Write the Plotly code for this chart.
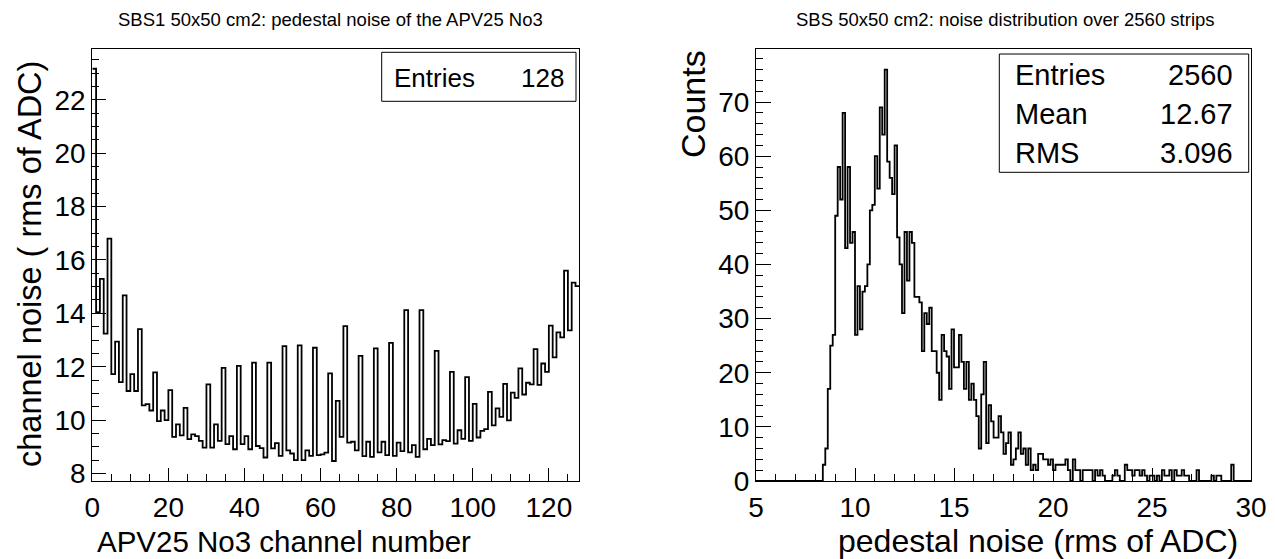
import numpy as np
import plotly.graph_objects as go

# ---------------- data ----------------
left_title = "SBS1 50x50 cm2: pedestal noise of the APV25 No3"
right_title = "SBS 50x50 cm2: noise distribution over 2560 strips"

# channel noise (rms of ADC) per APV25 channel, 128 channels
channel_noise = [
    23.16, 14.04, 15.29, 13.24, 16.80, 11.72, 12.94, 11.42, 14.67, 11.09,
    11.72, 11.09, 13.41, 10.55, 10.60, 10.36, 11.79, 9.96, 10.36, 10.00,
    11.12, 9.37, 9.84, 9.43, 10.46, 9.29, 9.47, 9.40, 9.22, 8.97,
    11.34, 8.97, 9.84, 9.22, 11.96, 9.10, 9.40, 8.91, 12.03, 9.10,
    9.40, 8.91, 12.15, 9.03, 8.95, 8.60, 12.15, 8.94, 9.14, 8.66,
    12.77, 8.87, 8.75, 8.50, 12.80, 8.50, 8.87, 8.66, 12.71, 8.69,
    8.72, 8.78, 11.75, 8.47, 10.72, 9.37, 13.52, 9.16, 9.19, 8.87,
    12.41, 8.65, 9.19, 8.62, 12.69, 8.79, 9.19, 8.69, 12.89, 8.66,
    9.16, 8.84, 14.12, 8.79, 9.06, 8.62, 14.12, 8.91, 9.30, 9.06,
    12.59, 9.09, 9.25, 9.21, 11.81, 9.12, 9.62, 9.30, 11.61, 9.22,
    10.61, 9.35, 9.60, 9.66, 11.06, 9.80, 10.44, 10.12, 11.36, 9.99,
    11.03, 10.83, 11.94, 10.96, 11.40, 11.34, 12.66, 11.32, 12.12, 11.81,
    13.54, 12.35, 13.29, 13.10, 15.60, 13.36, 15.15, 15.02,
]
n_channels = 128

# noise distribution: bins of 0.125 starting at 8.375 (counts)
noise_first_edge = 8.375
noise_bin_width = 0.125
noise_counts = [
    3, 6, 17, 25, 27, 49, 58, 52, 68, 43, 58, 44, 46, 27, 36, 28, 35, 36, 40, 50,
    51, 60, 54, 69, 64, 76, 59, 56, 53, 62, 45, 40, 31, 46, 37, 46, 44, 34, 34, 33,
    24, 31, 29, 32, 24, 24, 20, 15, 27, 24, 23, 17, 28, 21, 21, 27, 22, 17, 22, 15,
    18, 15, 12, 6, 16, 22, 7, 14, 11, 8, 8, 12, 9, 5, 7, 9, 3, 4, 6, 9,
    5, 6, 3, 6, 2, 3, 2, 5, 5, 4, 4, 3, 4, 2, 3, 3, 3, 3, 4, 2,
    0, 4, 2, 2, 0, 2, 2, 2, 2, 0, 2, 1, 2, 1, 0, 0, 0, 1, 2, 1,
    0, 0, 3, 2, 2, 1, 2, 2, 1, 2, 1, 0, 1, 1, 0, 1, 0, 2, 1, 1,
    2, 0, 2, 1, 1, 2, 1, 1, 0, 0, 0, 2, 0, 0, 0, 0, 0, 1, 0, 1,
    1, 0, 0, 0, 0, 3,
]

left_stats = [("Entries", "128")]
right_stats = [("Entries", "2560"), ("Mean", "12.67"), ("RMS", "3.096")]

left_xtitle = "APV25 No3 channel number"
left_ytitle = "channel noise ( rms of ADC)"
right_xtitle = "pedestal noise (rms of ADC)"
right_ytitle = "Counts"

# ---------------- figure ----------------
OFF = 8  # page body margin offset
W, H = 1275 - OFF, 559 - OFF
FONT = "Liberation Sans, Arial, Helvetica, sans-serif"


def px_x(p):
    return (p - OFF) / W


def px_y(p):
    return 1 - (p - OFF) / H


L_X0, L_X1 = 92.3, 579.3
R_X0, R_X1 = 756.0, 1251.0
Y_TOP, Y_BOT = 49.0, 481.0

fig = go.Figure()

# left histogram as step outline
left_edges = np.arange(n_channels + 1)
left_y = list(channel_noise) + [channel_noise[-1]]
fig.add_trace(go.Scatter(
    x=left_edges, y=left_y, mode="lines",
    line=dict(shape="hv", color="black", width=1.8),
    xaxis="x", yaxis="y", showlegend=False, hoverinfo="skip",
))

# right histogram as step outline
nc = len(noise_counts)
right_edges = noise_first_edge + noise_bin_width * np.arange(nc + 1)
rx = [5.0] + list(right_edges) + [30.0]
ry = [0] + list(noise_counts) + [0, 0]
fig.add_trace(go.Scatter(
    x=rx, y=ry, mode="lines",
    line=dict(shape="hv", color="black", width=1.8),
    xaxis="x2", yaxis="y2", showlegend=False, hoverinfo="skip",
))

axis_common = dict(
    showgrid=False, zeroline=False, showline=True, mirror=True, automargin=False,
    linecolor="black", linewidth=1, ticks="inside", tickcolor="black",
    tickwidth=1, tickfont=dict(family=FONT, size=28, color="black"),
)

fig.update_layout(
    width=W, height=H,
    margin=dict(l=0, r=0, t=0, b=0),
    paper_bgcolor="white", plot_bgcolor="white",
    font=dict(family=FONT, color="black"),
    xaxis=dict(
        domain=[px_x(L_X0), px_x(L_X1)], range=[0, 128], anchor="y",
        tick0=0, dtick=20, ticklen=13, ticklabelstandoff=1,
        minor=dict(dtick=5, ticklen=7, ticks="inside", tickcolor="black", tickwidth=1),
        **axis_common,
    ),
    yaxis=dict(
        domain=[px_y(Y_BOT), px_y(Y_TOP)], range=[7.72, 23.9], anchor="x",
        tick0=0, dtick=2, ticklen=14, ticklabelstandoff=0,
        minor=dict(dtick=0.5, ticklen=7, ticks="inside", tickcolor="black", tickwidth=1),
        **axis_common,
    ),
    xaxis2=dict(
        domain=[px_x(R_X0), px_x(R_X1)], range=[5, 30], anchor="y2",
        tick0=0, dtick=5, ticklen=13, ticklabelstandoff=1,
        minor=dict(dtick=1, ticklen=7, ticks="inside", tickcolor="black", tickwidth=1),
        **axis_common,
    ),
    yaxis2=dict(
        domain=[px_y(Y_BOT), px_y(Y_TOP)], range=[0, 79.8], anchor="x2",
        tick0=0, dtick=10, ticklen=15, ticklabelstandoff=0,
        minor=dict(dtick=2, ticklen=7, ticks="inside", tickcolor="black", tickwidth=1),
        **axis_common,
    ),
)

ann = []
shapes = []

# titles
ann.append(dict(text=left_title, x=px_x(330), y=px_y(8.5), xref="paper", yref="paper",
                xanchor="center", yanchor="top", showarrow=False, borderpad=0,
                font=dict(family=FONT, size=18.5, color="black")))
ann.append(dict(text=right_title, x=px_x(1005), y=px_y(8.5), xref="paper", yref="paper",
                xanchor="center", yanchor="top", showarrow=False, borderpad=0,
                font=dict(family=FONT, size=18.5, color="black")))

# axis titles
ann.append(dict(text=left_xtitle, x=px_x(284), y=px_y(541), xref="paper", yref="paper",
                xanchor="center", yanchor="middle", showarrow=False,
                font=dict(family=FONT, size=29.5, color="black")))
ann.append(dict(text=right_xtitle, x=px_x(1038), y=px_y(541), xref="paper", yref="paper",
                xanchor="center", yanchor="middle", showarrow=False,
                font=dict(family=FONT, size=32, color="black")))
ann.append(dict(text=left_ytitle, x=px_x(30), y=px_y(264), xref="paper", yref="paper",
                xanchor="center", yanchor="middle", showarrow=False, textangle=-90,
                font=dict(family=FONT, size=32.5, color="black")))
ann.append(dict(text=right_ytitle, x=px_x(693), y=px_y(104), xref="paper", yref="paper",
                xanchor="center", yanchor="middle", showarrow=False, textangle=-90,
                font=dict(family=FONT, size=34, color="black")))

# stats boxes
shapes.append(dict(type="rect", xref="paper", yref="paper",
                   x0=px_x(381.7), x1=px_x(576), y0=px_y(101.3), y1=px_y(52.3),
                   line=dict(color="black", width=1), fillcolor="white", layer="above"))
for i, (k, v) in enumerate(left_stats):
    yc = 77.7 + i * 39
    ann.append(dict(text=k, x=px_x(391.7), y=px_y(yc), xref="paper", yref="paper",
                    xanchor="left", yanchor="middle", showarrow=False,
                    font=dict(family=FONT, size=26, color="black")))
    ann.append(dict(text=v, x=px_x(566), y=px_y(yc), xref="paper", yref="paper",
                    xanchor="right", yanchor="middle", showarrow=False,
                    font=dict(family=FONT, size=26, color="black")))

shapes.append(dict(type="rect", xref="paper", yref="paper",
                   x0=px_x(999.3), x1=px_x(1248.7), y0=px_y(172.3), y1=px_y(54),
                   line=dict(color="black", width=1), fillcolor="white", layer="above"))
for i, (k, v) in enumerate(right_stats):
    yc = 75 + i * 38.8
    ann.append(dict(text=k, x=px_x(1012.7), y=px_y(yc), xref="paper", yref="paper",
                    xanchor="left", yanchor="middle", showarrow=False,
                    font=dict(family=FONT, size=29, color="black")))
    ann.append(dict(text=v, x=px_x(1235), y=px_y(yc), xref="paper", yref="paper",
                    xanchor="right", yanchor="middle", showarrow=False,
                    font=dict(family=FONT, size=29, color="black")))

fig.update_layout(annotations=ann, shapes=shapes)

fig.write_html("out.html")
